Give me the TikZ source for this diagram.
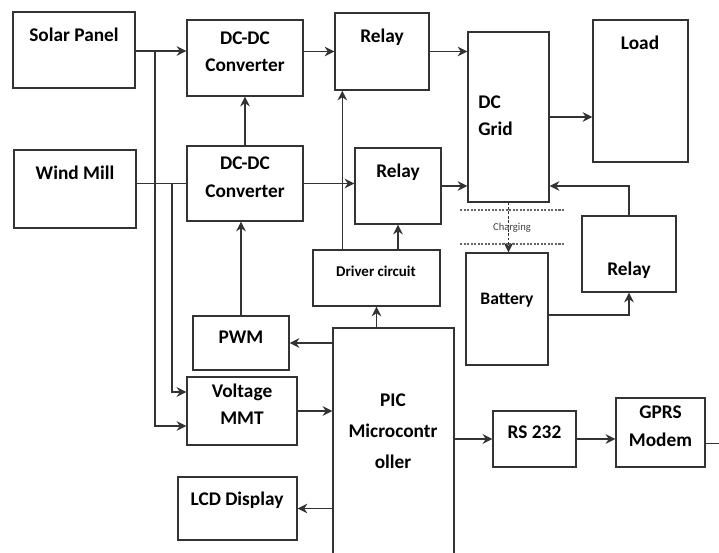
\documentclass[tikz,border=0pt]{standalone}
\usepackage{fontspec}
\setmainfont{Carlito}
\usepackage{tikz}
\usetikzlibrary{backgrounds,fit,calc,arrows.meta}
\pgfdeclarelayer{edgelayer}
\pgfdeclarelayer{nodelayer}
\pgfsetlayers{edgelayer,nodelayer,main}
\tikzstyle{none}=[inner sep=0pt]
\tikzstyle{block}=[rectangle,draw=black!80,fill=white,line width=0.8pt,inner sep=0pt,align=center,font=\bfseries\fontsize{11}{15.5}\selectfont]
\tikzstyle{label}=[inner sep=0pt,align=center,font=\bfseries\fontsize{11}{15.5}\selectfont]
\tikzstyle{inarrow}=[->, >={Stealth[length=5.5pt,width=5.5pt]}, draw=black!80, line width=0.8pt]
\tikzstyle{wire}=[-, draw=black!80, line width=0.8pt]
\tikzstyle{band}=[-, draw=black!60, line width=0.8pt, dash pattern=on 1.2pt off 0.8pt]

\begin{document}
\begin{tikzpicture}[x=0.02cm,y=-0.02cm]
	\useasboundingbox (0,0) rectangle (719,552);
	\begin{pgfonlayer}{nodelayer}
		\node [style=block, fit={(13,12) (135,88)}] (solar) {};
		\node [style=label] (solarT) at (74,35) {Solar Panel};
		\node [style=block, fit={(187,20) (303,96)}] (dcdcA) {DC-DC\\Converter};
		\node [style=block, fit={(335,13) (429,90)}] (relayA) {};
		\node [style=label] (relayAT) at (382,37) {Relay};
		\node [style=block, fit={(468,32) (549,202)}] (grid) {};
		\node [style=label, anchor=west, align=left] (gridT) at (478,116) {DC\\Grid};
		\node [style=block, fit={(593,20) (688,162)}] (load) {};
		\node [style=label] (loadT) at (640,43) {Load};
		\node [style=block, fit={(14,150) (136,228)}] (wind) {};
		\node [style=label] (windT) at (75,173) {Wind Mill};
		\node [style=block, fit={(187,146) (303,221)}] (dcdcB) {DC-DC\\Converter};
		\node [style=block, fit={(355,148) (441,224)}] (relayB) {};
		\node [style=label] (relayBT) at (398,172) {Relay};
		\node [style=block, fit={(313,250) (440,306)}] (driver) {};
		\node [style=label, font=\bfseries\fontsize{8.5}{10}\selectfont] (driverT) at (376,271) {Driver circuit};
		\node [style=block, fit={(466,253) (548,365)}] (battery) {};
		\node [style=label, font=\bfseries\fontsize{10}{12}\selectfont] (batteryT) at (507,300) {Battery};
		\node [style=block, fit={(582,216) (676,292)}] (relayC) {};
		\node [style=label] (relayCT) at (629,270) {Relay};
		\node [style=block, fit={(193,316) (289,370)}] (pwm) {PWM};
		\node [style=block, fit={(187,377) (297,445)}] (volt) {Voltage\\MMT};
		\node [style=block, fit={(178,477) (297,540)}] (lcd) {};
		\node [style=label] (lcdT) at (237,500) {LCD Display};
		\node [style=block, fit={(333,328) (454,570)}] (pic) {};
		\node [style=label, font=\bfseries\fontsize{11}{17.5}\selectfont] (picT) at (393,431) {PIC\\Microcontr\\oller};
		\node [style=block, fit={(493,411) (576,467)}] (rs) {RS 232};
		\node [style=block, fit={(616,398) (705,467)}] (gprs) {GPRS\\Modem};
		\node [style=label, font=\fontsize{6}{7}\selectfont, text=black!75] (chargeT) at (512,228) {Charging};
		\coordinate (tapS) at (155,51);
		\coordinate (tapW) at (172,183.5);
		\coordinate (out) at (730,444);
	\end{pgfonlayer}
	\begin{pgfonlayer}{edgelayer}
		\draw [style=inarrow] (solar.east |- tapS) -- (tapS -| dcdcA.west);
		\draw [style=wire] (wind.east |- dcdcB.west) -- (dcdcB.west);
		\draw [style=inarrow] (tapS) |- ($(volt.west)+(0,15)$);
		\draw [style=inarrow] (tapW) |- ($(volt.west)+(0,-19)$);
		\fill [black!80] (tapS |- tapW) circle (1.6);
		\draw [style=inarrow] (relayA.west -| dcdcA.east) -- (relayA.west);
		\draw [style=inarrow] (dcdcB.north) -- (dcdcA.south);
		\draw [style=inarrow] (dcdcB.east) -- (dcdcB.east -| relayB.west);
		\draw [style=inarrow] (relayA.east) -- (relayA.east -| grid.west);
		\draw [style=inarrow] (relayB.east) -- (relayB.east -| grid.west);
		\draw [style=inarrow] (grid.east) -- (grid.east -| load.west);
		\draw [style=inarrow] (relayC.north) |- (grid.east |- relayB.east);
		\draw [style=inarrow] ($(battery.east)+(0,6)$) -| (relayC.south);
		\draw [style=band] (460,210) -- (565,210);
		\draw [style=band] (460,244) -- (565,244);
		\draw [style=inarrow, dash pattern=on 1.5pt off 1pt] (grid.south) -- (grid.south |- battery.north);
		\draw [style=inarrow] ($(driver.north west)+(30,0)$) coordinate (d1) -- (d1 |- relayA.south);
		\draw [style=inarrow] (driver.north -| relayB.south) -- (relayB.south);
		\draw [style=inarrow] (driver.south |- pic.north) -- (driver.south);
		\draw [style=inarrow] (pwm.north) -- (pwm.north |- dcdcB.south);
		\draw [style=inarrow] (pic.west |- pwm.east) -- (pwm.east);
		\draw [style=inarrow] (volt.east) -- (volt.east -| pic.west);
		\draw [style=inarrow] (pic.west |- lcd.east) -- (lcd.east);
		\draw [style=inarrow] (pic.east |- rs.west) -- (rs.west);
		\draw [style=inarrow] (rs.east) -- (rs.east -| gprs.west);
		\draw [style=wire] ($(gprs.east)+(0,11)$) -- (out |- {$(gprs.east)+(0,11)$});
	\end{pgfonlayer}
\end{tikzpicture}
\end{document}
